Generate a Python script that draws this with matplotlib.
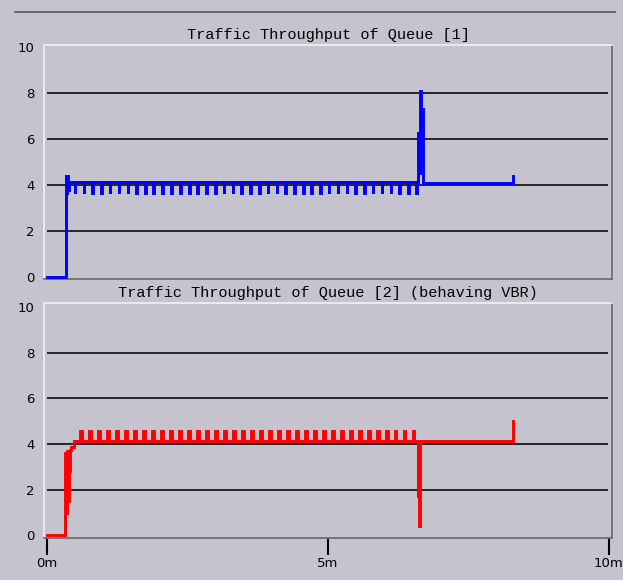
import matplotlib.pyplot as plt
from matplotlib.lines import Line2D

bg = '#c5c3cd'

# time in minutes, throughput values
q1_start_t = [0.0, 0.34, 0.34, 0.355, 0.355, 0.37, 0.37, 0.385, 0.385, 0.40, 0.40]
q1_start_v = [0.0, 0.0, 4.4, 4.4, 3.6, 3.6, 4.4, 4.4, 3.8, 3.8, 4.12]
q1_level = 4.12
q1_dip = 3.67
q1_dip_times = [0.50, 0.66, 0.81, 0.97, 1.12, 1.28, 1.44, 1.59, 1.75, 1.90,
                2.06, 2.22, 2.37, 2.53, 2.68, 2.84, 3.00, 3.15, 3.31, 3.46,
                3.62, 3.78, 3.93, 4.09, 4.24, 4.40, 4.56, 4.71, 4.87, 5.02,
                5.18, 5.34, 5.49, 5.65, 5.80, 5.96, 6.12, 6.27, 6.43, 6.58]
q1_burst_t = [6.615, 6.615, 6.63, 6.63, 6.645, 6.645, 6.66, 6.66, 6.675, 6.675,
              6.69, 6.69]
q1_burst_v = [4.12, 6.25, 6.25, 4.5, 4.5, 8.1, 8.1, 5.0, 5.0, 7.3, 7.3, 4.08]
q1_end_t = [8.29, 8.29]
q1_end_v = [4.08, 4.4]

q2_start_t = [0.0, 0.33, 0.33, 0.345, 0.345, 0.36, 0.36, 0.375, 0.375, 0.39,
              0.39, 0.405, 0.405, 0.42, 0.42, 0.44, 0.44, 0.48, 0.48]
q2_start_v = [0.0, 0.0, 3.6, 3.6, 1.0, 1.0, 3.7, 3.7, 1.5, 1.5,
              3.7, 3.7, 2.8, 2.8, 3.75, 3.75, 3.85, 3.85, 4.15]
q2_level = 4.15
q2_spike = 4.57
q2_spike_times = [0.59, 0.75, 0.91, 1.07, 1.23, 1.39, 1.55, 1.71, 1.87, 2.03,
                  2.19, 2.35, 2.51, 2.67, 2.83, 2.99, 3.15, 3.31, 3.47, 3.63,
                  3.79, 3.95, 4.11, 4.27, 4.43, 4.59, 4.75, 4.91, 5.07, 5.23,
                  5.39, 5.55, 5.71, 5.87, 6.03, 6.19, 6.35, 6.51]
q2_burst_t = [6.60, 6.60, 6.615, 6.615, 6.63, 6.63, 6.645, 6.645]
q2_burst_v = [4.15, 1.7, 1.7, 4.0, 4.0, 0.4, 0.4, 4.15]
q2_end_t = [8.29, 8.29]
q2_end_v = [4.15, 5.0]

yticks = [0, 2, 4, 6, 8, 10]
xticks = [0, 5, 10]
xlabels = ['0m', '5m', '10m']
titles = ['Traffic Throughput of Queue [1]',
          'Traffic Throughput of Queue [2] (behaving VBR)']


def build(st, sv, level, marks, mark_v, width, bt, bv, et, ev):
    xs, ys = list(st), list(sv)
    for t in marks:
        xs += [t, t, t + width, t + width]
        ys += [level, mark_v, mark_v, level]
    xs += bt + et
    ys += bv + ev
    return xs, ys


fig = plt.figure(figsize=(6.23, 5.80), dpi=100, facecolor=bg)
W, H = 623, 580
ax1 = fig.add_axes([44 / W, 1 - 279 / H, 568 / W, 234 / H], facecolor=bg)
ax2 = fig.add_axes([44 / W, 1 - 538 / H, 568 / W, 235 / H], facecolor=bg)

x1, y1 = build(q1_start_t, q1_start_v, q1_level, q1_dip_times, q1_dip, 0.012,
               q1_burst_t, q1_burst_v, q1_end_t, q1_end_v)
x2, y2 = build(q2_start_t, q2_start_v, q2_level, q2_spike_times, q2_spike, 0.035,
               q2_burst_t, q2_burst_v, q2_end_t, q2_end_v)

for ax, (xs, ys), col, title, ylim in [
        (ax1, (x1, y1), '#0000ff', titles[0], (-0.09, 10.09)),
        (ax2, (x2, y2), '#ff0000', titles[1], (-0.11, 10.17))]:
    ax.hlines([2, 4, 6, 8], 0, 9.99, colors='#1a1a1a', lw=1.3, zorder=1)
    ax.plot(xs, ys, color=col, lw=2.1, solid_joinstyle='miter', zorder=3)
    ax.set_xlim(-0.048, 10.06)
    ax.set_ylim(*ylim)
    ax.set_yticks(yticks)
    ax.tick_params(axis='y', length=0, pad=7, labelsize=9.5)
    ax.set_title(title, fontfamily='Liberation Mono', fontsize=11, pad=4)
    ax.spines['left'].set_color('#eeeef6')
    ax.spines['top'].set_color('#eeeef6')
    ax.spines['right'].set_color('#6e6e74')
    ax.spines['bottom'].set_color('#6e6e74')
    for s in ax.spines.values():
        s.set_linewidth(1.3)

ax1.set_xticks([])
ax2.set_xticks(xticks)
ax2.set_xticklabels(xlabels)
ax2.tick_params(axis='x', length=12, width=1.5, color='black', pad=2,
                labelsize=9.5)

# window frame remnants at top
fig.add_artist(Line2D([15 / W, 615 / W], [1 - 12 / H, 1 - 12 / H],
                      color='#555555', lw=1.2))

fig.savefig('out.png', dpi=100, facecolor=bg)
